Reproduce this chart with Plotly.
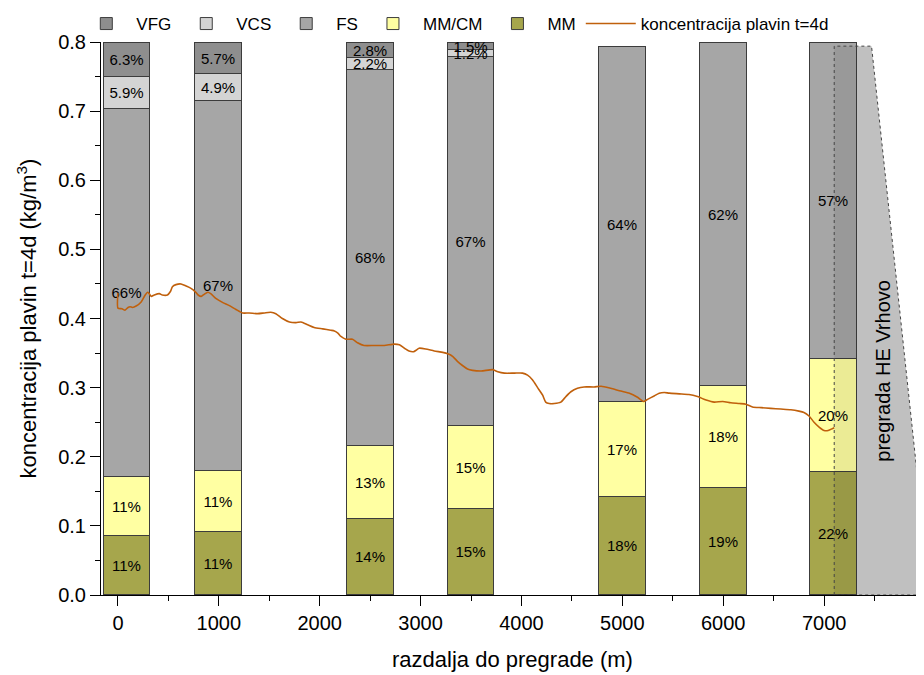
import plotly.graph_objects as go

# ---------------- data ----------------
distance = [90, 1000, 2500, 3500, 5000, 6000, 7090]          # bar positions (m)
mm = [0.086, 0.091, 0.110, 0.125, 0.142, 0.155, 0.178]       # kg/m3
mm_cm = [0.085, 0.089, 0.106, 0.119, 0.137, 0.147, 0.163]
fs = [0.532, 0.535, 0.544, 0.535, 0.514, 0.497, 0.457]
vcs = [0.046, 0.039, 0.017, 0.009, None, None, None]
vfg = [0.050, 0.045, 0.022, 0.011, None, None, None]

mm_pct = ["11%", "11%", "14%", "15%", "18%", "19%", "22%"]
mmcm_pct = ["11%", "11%", "13%", "15%", "17%", "18%", "20%"]
fs_pct = ["66%", "67%", "68%", "67%", "64%", "62%", "57%"]
vcs_pct = ["5.9%", "4.9%", "2.2%", "1.2%", "", "", ""]
vfg_pct = ["6.3%", "5.7%", "2.8%", "1.5%", "", "", ""]

line_x = [0, 0, 40, 70, 100, 120, 145, 180, 230, 270, 295, 310, 330, 360, 410, 440,
          490, 520, 540, 575, 625, 675, 720, 765, 795, 825, 855, 890, 920, 970,
          1040, 1100, 1170, 1235, 1300, 1385, 1450, 1515, 1565, 1630, 1700, 1765,
          1815, 1880, 1945, 2030, 2110, 2145, 2180, 2210, 2260, 2325, 2375, 2440,
          2540, 2640, 2740, 2790, 2840, 2885, 2930, 2955, 2985, 3050, 3135, 3220,
          3270, 3320, 3365, 3415, 3465, 3515, 3600, 3715, 3765, 3830, 3930, 4010,
          4060, 4110, 4160, 4210, 4240, 4275, 4325, 4390, 4440, 4490, 4555, 4620,
          4720, 4790, 4885, 4985, 5070, 5150, 5210, 5250, 5315, 5365, 5415, 5465,
          5565, 5660, 5745, 5830, 5910, 5995, 6075, 6160, 6225, 6290, 6375, 6470,
          6570, 6670, 6750, 6800, 6850, 6900, 6950, 7000, 7040, 7085, 7100]
line_y = [0.437, 0.415, 0.414, 0.412, 0.416, 0.417, 0.416, 0.418, 0.424, 0.434, 0.438,
          0.436, 0.432, 0.434, 0.436, 0.434, 0.434, 0.439, 0.446, 0.449, 0.450, 0.447,
          0.444, 0.439, 0.434, 0.432, 0.435, 0.438, 0.436, 0.429, 0.423, 0.419, 0.413,
          0.408, 0.408, 0.407, 0.408, 0.409, 0.407, 0.400, 0.395, 0.394, 0.395, 0.391,
          0.387, 0.385, 0.383, 0.382, 0.379, 0.374, 0.370, 0.370, 0.365, 0.361, 0.361,
          0.361, 0.363, 0.362, 0.357, 0.353, 0.352, 0.354, 0.357, 0.356, 0.353, 0.351,
          0.349, 0.345, 0.338, 0.332, 0.327, 0.325, 0.324, 0.326, 0.323, 0.321, 0.321,
          0.321, 0.318, 0.311, 0.300, 0.289, 0.279, 0.277, 0.277, 0.279, 0.287, 0.294,
          0.299, 0.301, 0.301, 0.302, 0.299, 0.295, 0.292, 0.286, 0.280, 0.283, 0.288,
          0.292, 0.293, 0.292, 0.291, 0.290, 0.287, 0.282, 0.279, 0.280, 0.278, 0.277,
          0.276, 0.272, 0.271, 0.270, 0.269, 0.268, 0.266, 0.264, 0.259, 0.250, 0.243,
          0.238, 0.238, 0.241, 0.242]

x_ticks = [0, 1000, 2000, 3000, 4000, 5000, 6000, 7000]

# dam (pregrada) outline
dam_x = 7100
dam_top = 0.794
dam_top_right = 7470
dam_base_right = 8050

# ---------------- styling ----------------
FONT = "Liberation Sans, Arial, sans-serif"
BAR_W = 465
EDGE = dict(color="#3c3c3c", width=1)

fig = go.Figure()

series = [
    ("MM", mm, mm_pct, "#a6a64c", 5),
    ("MM/CM", mm_cm, mmcm_pct, "#ffffa2", 4),
    ("FS", fs, fs_pct, "#a6a6a6", 3),
    ("VCS", vcs, vcs_pct, "#d4d4d4", 2),
    ("VFG", vfg, vfg_pct, "#8e8e8e", 1),
]
for name, vals, pct, col, rank in series:
    fig.add_trace(go.Bar(
        x=distance, y=vals, name=name, width=BAR_W,
        marker=dict(color=col, line=EDGE),
        text=pct, textposition="inside", insidetextanchor="middle",
        textangle=0, constraintext="none",
        textfont=dict(family=FONT, size=15, color="black"),
        legendrank=rank, cliponaxis=False,
    ))

fig.add_trace(go.Scatter(
    x=line_x, y=line_y, mode="lines", name="koncentracija plavin t=4d",
    line=dict(color="#c0600c", width=1.6, shape="spline", smoothing=0.6),
    legendrank=6,
))

bar_right = distance[-1] + BAR_W / 2
dam_path = (f"M {dam_x},0 L {dam_x},{dam_top} L {dam_top_right},{dam_top} "
            f"L {dam_base_right},0 Z")
fig.add_shape(type="path", path=dam_path, xref="x", yref="y",
              fillcolor="#c0c0c0", line=dict(width=0), layer="below")
fig.add_shape(type="rect", xref="x", yref="y", x0=dam_x, x1=bar_right,
              y0=0, y1=dam_top, fillcolor="rgba(0,0,0,0.08)",
              line=dict(width=0), layer="above")
fig.add_shape(type="path", path=dam_path, xref="x", yref="y",
              fillcolor="rgba(0,0,0,0)",
              line=dict(color="#444444", width=1, dash="3px,3px"), layer="above")
fig.add_annotation(x=7580, y=0.324, xref="x", yref="y", text="pregrada HE Vrhovo",
                   textangle=-90, showarrow=False,
                   font=dict(family=FONT, size=20, color="black"))

# the page adds an 8 px body margin, so the figure is sized to fit the window
fig.update_layout(
    width=916, height=667,
    margin=dict(l=93, r=0, t=34, b=80, autoexpand=False),
    paper_bgcolor="white", plot_bgcolor="white",
    barmode="stack", bargap=0,
    font=dict(family=FONT, size=20, color="black"),
    uniformtext=dict(minsize=15, mode="show"),
    legend=dict(orientation="h", x=-0.03, xanchor="left", y=1.0, yanchor="bottom",
                font=dict(family=FONT, size=17), bgcolor="rgba(0,0,0,0)",
                traceorder="normal", itemwidth=50),
    showlegend=True,
)
fig.update_xaxes(
    range=[-168, 7990], tickvals=x_ticks, ticks="outside", ticklen=10,
    tickwidth=1, tickcolor="black", showline=True, linecolor="black", linewidth=1,
    showgrid=False, zeroline=False, tickfont=dict(size=20), automargin=False,
    minor=dict(tickmode="linear", tick0=0, dtick=500, ticks="outside", ticklen=5,
               tickcolor="black", showgrid=False),
    title=dict(text="razdalja do pregrade (m)", font=dict(size=22), standoff=18),
)
fig.update_yaxes(
    range=[0, 0.8], dtick=0.1, tick0=0, tickformat=".1f", ticks="outside", ticklen=10,
    tickwidth=1, tickcolor="black", showline=True, linecolor="black", linewidth=1,
    showgrid=False, zeroline=False, tickfont=dict(size=20), automargin=False,
    minor=dict(tickmode="linear", tick0=0, dtick=0.05, ticks="outside", ticklen=5,
               tickcolor="black", showgrid=False),
    title=dict(text="koncentracija plavin t=4d (kg/m<sup>3</sup>)", font=dict(size=22),
               standoff=15),
)

fig.write_html("out.html")
